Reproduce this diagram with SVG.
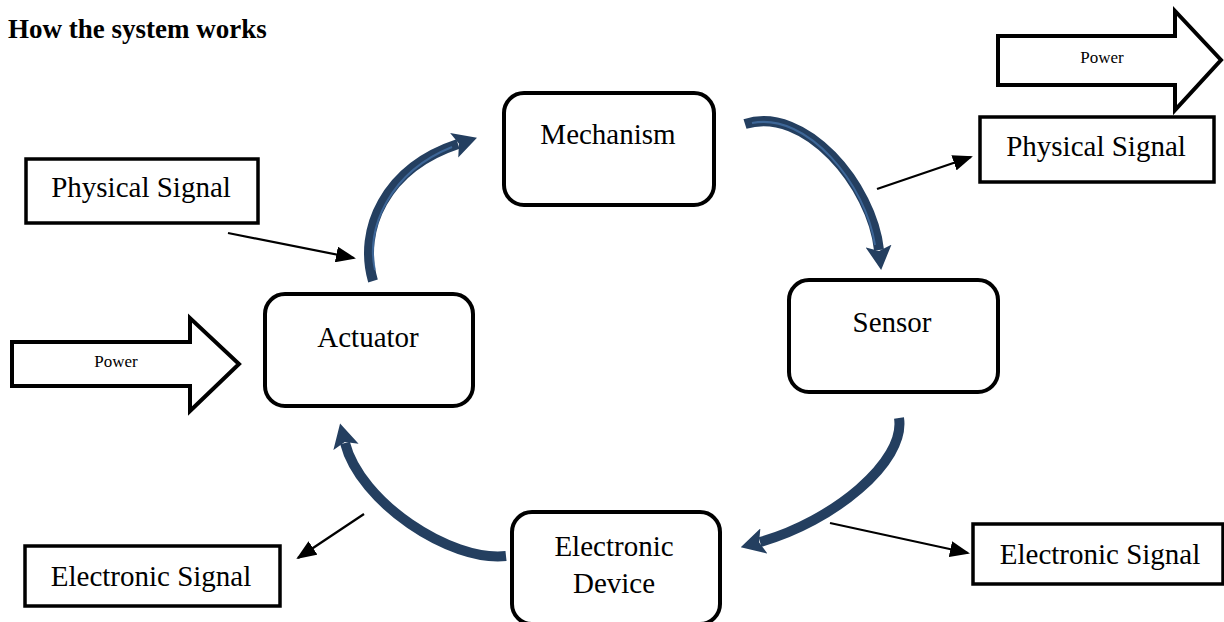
<svg xmlns="http://www.w3.org/2000/svg" width="1224" height="622" viewBox="0 0 1224 622">
<style>
text{font-family:"Liberation Serif","Times New Roman",serif;fill:#000}
.lbl{font-size:29px;text-anchor:middle}
.pw{font-size:17px;text-anchor:middle}
.node{fill:#fff;stroke:#000;stroke-width:4}
.sq{fill:#fff;stroke:#000;stroke-width:3.5}
.blk{fill:#fff;stroke:#000;stroke-width:4;stroke-linejoin:miter}
.thin{fill:none;stroke:#000;stroke-width:2.2;marker-end:url(#ah)}
.curve{fill:none;stroke:#243F60;stroke-width:10;stroke-linecap:butt;marker-end:url(#bh)}
.hi{fill:none;stroke:#4F81BD;stroke-width:2;opacity:.6}
</style>
<defs>
<marker id="ah" markerUnits="userSpaceOnUse" markerWidth="20" markerHeight="16" refX="18" refY="8" orient="auto"><path d="M0,0 L20,8 L0,16 Z" fill="#000"/></marker>
<marker id="bh" markerUnits="userSpaceOnUse" markerWidth="24" markerHeight="26" refX="4" refY="13" orient="auto"><path d="M0,0 L24,13 L0,26 L5,13 Z" fill="#243F60"/></marker>
</defs>
<rect width="1224" height="622" fill="#fff"/>
<text x="8" y="38" style="font-size:27px;font-weight:bold">How the system works</text>

<g id="connectors">
<path class="curve" d="M373 281 C358 230 385 168 458 144"/>
<path class="curve" d="M745 124 C805 105 872 185 879 250"/>
<path class="curve" d="M899 418 C906 462 832 522 760 542"/>
<path class="curve" d="M506 556 C450 562 360 502 345 443"/>
<path class="hi" d="M375 270 C365 228 390 172 452 147"/>
<path class="hi" d="M752 123 C808 112 866 185 875 245"/>
<line class="thin" x1="228" y1="233" x2="354" y2="258"/>
<line class="thin" x1="877" y1="189" x2="971" y2="157"/>
<line class="thin" x1="364" y1="514" x2="298" y2="558"/>
<line class="thin" x1="830" y1="523" x2="968" y2="553"/>
</g>

<g id="power-top">
<path class="blk" d="M998 36 L1175 36 L1175 11 L1221 60 L1175 110 L1175 85 L998 85 Z"/>
<text class="pw" x="1102" y="63">Power</text>
</g>
<g id="power-left">
<path class="blk" d="M12 342 L190 342 L190 318 L239 364 L190 411 L190 386 L12 386 Z"/>
<text class="pw" x="116" y="367">Power</text>
</g>

<g id="mechanism">
<rect class="node" x="504" y="93" width="210" height="112" rx="20"/>
<text class="lbl" x="608" y="144">Mechanism</text>
</g>
<g id="sensor">
<rect class="node" x="789" y="280" width="209" height="112" rx="20"/>
<text class="lbl" x="892" y="332">Sensor</text>
</g>
<g id="actuator">
<rect class="node" x="265" y="294" width="208" height="112" rx="20"/>
<text class="lbl" x="368" y="347">Actuator</text>
</g>
<g id="electronic-device">
<rect class="node" x="512" y="512" width="208" height="112" rx="20"/>
<text class="lbl" x="614" y="556">Electronic</text>
<text class="lbl" x="614" y="593">Device</text>
</g>

<g id="physical-signal-left">
<rect class="sq" x="26" y="159" width="232" height="64"/>
<text class="lbl" x="141" y="197">Physical Signal</text>
</g>
<g id="physical-signal-right">
<rect class="sq" x="980" y="117" width="234" height="65"/>
<text class="lbl" x="1096" y="156">Physical Signal</text>
</g>
<g id="electronic-signal-left">
<rect class="sq" x="25" y="546" width="255" height="60"/>
<text class="lbl" x="151" y="586">Electronic Signal</text>
</g>
<g id="electronic-signal-right">
<rect class="sq" x="973" y="524" width="250" height="60"/>
<text class="lbl" x="1100" y="564">Electronic Signal</text>
</g>
</svg>
